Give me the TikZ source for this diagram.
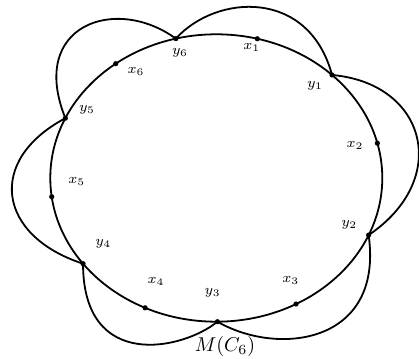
\documentclass[tikz,border=0pt]{standalone}
\begin{document}
\begin{tikzpicture}[x=0.5pt,y=0.5pt,
  curve/.style={line width=0.9pt},
  lbl/.style={font=\scriptsize, inner sep=0pt},
  dotr/.style={radius=1.3pt}]
\useasboundingbox (0,0) rectangle (419,359);
% ellipse centre and radii
\def\cx{216.3}\def\cy{181}\def\rx{166}\def\ry{143.7}
\foreach \n/\t in {y6/104.1, x1/75.7, y1/45.8, x2/14, y2/-23.4, x3/-61.3,
                   y3/-89.6, x4/-115.4, y4/-143.4, x5/-172.5, y5/155.4, x6/127.3}
  \coordinate (\n) at ({\cx+\rx*cos(\t)},{\cy+\ry*sin(\t)});
\draw[curve] (\cx,\cy) ellipse [x radius=\rx, y radius=\ry];
% outer arcs
\draw[curve] (y6) .. controls +(48:60) and +(105:90) .. (y1);
\draw[curve] (y1) .. controls +(-5:95) and +(34:100) .. (y2);
\draw[curve] (y2) .. controls +(-82:110) and +(-30:70) .. (y3);
\draw[curve] (y3) .. controls +(219:45) and +(-90:108) .. (y4);
\draw[curve] (y4) .. controls +(162:90) and +(208:90) .. (y5);
\draw[curve] (y5) .. controls +(112:100) and +(144:75) .. (y6);
% dots
\foreach \n in {y1,y2,y3,y4,y5,y6,x1,x2,x3,x4,x5,x6}
  \fill (\n) circle [dotr];
% labels
\node[lbl] (ly6) at (180,306.3) {$y_6$};
\node[lbl] (lx6) at (136,288) {$x_6$};
\node[lbl] (ly5) at (87,249) {$y_5$};
\node[lbl] (lx1) at (251.7,311.3) {$x_1$};
\node[lbl] (ly1) at (315,273) {$y_1$};
\node[lbl] (lx2) at (355,214) {$x_2$};
\node[lbl] (ly2) at (349.3,134) {$y_2$};
\node[lbl] (lx3) at (290.7,79) {$x_3$};
\node[lbl] (ly3) at (212.7,66.3) {$y_3$};
\node[lbl] (lx4) at (156,78) {$x_4$};
\node[lbl] (lx5) at (76.7,178) {$x_5$};
\node[lbl] (ly4) at (103.3,115) {$y_4$};
\node[inner sep=0pt] (title) at (225,12) {$M(C_6)$};
\end{tikzpicture}
\end{document}
